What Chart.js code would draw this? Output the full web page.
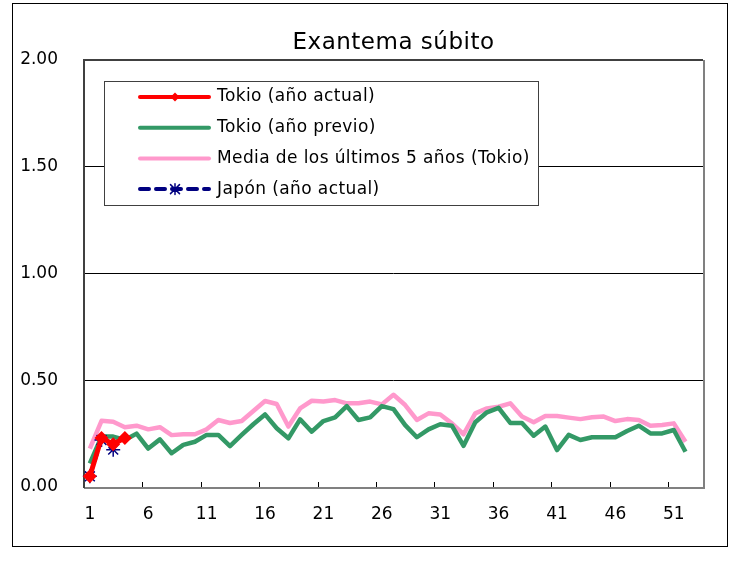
<!DOCTYPE html>
<html>
<head>
<meta charset="utf-8">
<title>Exantema súbito</title>
<script src="https://cdn.jsdelivr.net/npm/chart.js@4.4.1/dist/chart.umd.min.js"></script>
<style>
  body { margin: 0; background: #fff; }
</style>
</head>
<body>
<canvas id="grafica" width="736" height="568"></canvas>
<script>
// semanas epidemiológicas
var semanas = [1, 2, 3, 4, 5, 6, 7, 8, 9, 10, 11, 12, 13, 14, 15, 16, 17, 18, 19, 20,
  21, 22, 23, 24, 25, 26, 27, 28, 29, 30, 31, 32, 33, 34, 35, 36, 37, 38, 39, 40,
  41, 42, 43, 44, 45, 46, 47, 48, 49, 50, 51, 52, 53];

var tokioActual = [0.05, 0.23, 0.20, 0.23];
var japonActual = [0.05, 0.22, 0.175];
var tokioPrevio = [0.11, 0.236, 0.236, 0.22, 0.25, 0.18, 0.223, 0.158, 0.197, 0.212,
  0.244, 0.244, 0.192, 0.244, 0.294, 0.34, 0.275, 0.228, 0.317, 0.259,
  0.309, 0.326, 0.379, 0.314, 0.326, 0.379, 0.365, 0.29, 0.233, 0.27,
  0.294, 0.287, 0.193, 0.303, 0.35, 0.371, 0.30, 0.30, 0.24, 0.283,
  0.173, 0.244, 0.22, 0.233, 0.233, 0.233, 0.262, 0.287, 0.251, 0.251,
  0.267, 0.165];
var media5Anios = [0.18, 0.31, 0.306, 0.28, 0.287, 0.27, 0.28, 0.243, 0.247, 0.247,
  0.27, 0.314, 0.30, 0.309, 0.356, 0.403, 0.389, 0.283, 0.368, 0.404,
  0.40, 0.407, 0.392, 0.392, 0.40, 0.387, 0.432, 0.384, 0.314, 0.345,
  0.34, 0.298, 0.247, 0.345, 0.368, 0.376, 0.392, 0.33, 0.303, 0.333,
  0.333, 0.325, 0.318, 0.327, 0.33, 0.309, 0.318, 0.314, 0.287, 0.29,
  0.298, 0.212];

var fuente = "'DejaVu Sans', sans-serif";

var series = [
  { nombre: "Tokio (año actual)", color: "#ff0000", ancho: 5, dash: [], marca: "rombo" },
  { nombre: "Tokio (año previo)", color: "#339966", ancho: 4.5, dash: [], marca: null },
  { nombre: "Media de los últimos 5 años (Tokio)", color: "#ff99cc", ancho: 4.5, dash: [], marca: null },
  { nombre: "Japón (año actual)", color: "#000080", ancho: 3.5, dash: [9, 7], marca: "estrella" }
];

// marco, borde exterior y marcas del eje x
var marcoPlugin = {
  id: "marco",
  beforeDatasetsDraw: function (chart) {
    var ctx = chart.ctx;
    var a = chart.chartArea;
    var x = chart.scales.x;
    ctx.save();
    ctx.strokeStyle = "#000";
    ctx.lineWidth = 1;
    ctx.strokeRect(12.5, 3.5, 715, 543);
    // marcas cada 5 semanas, hacia adentro
    ctx.beginPath();
    for (var i = 5; i < semanas.length; i += 5) {
      var px = Math.round((x.getPixelForValue(i - 1) + x.getPixelForValue(i)) / 2) + 0.5;
      ctx.moveTo(px, a.bottom);
      ctx.lineTo(px, a.bottom - 5);
    }
    ctx.stroke();
    ctx.strokeStyle = "#808080";
    ctx.lineWidth = 2;
    ctx.beginPath();
    ctx.moveTo(a.left, a.bottom + 1);
    ctx.lineTo(a.right + 1, a.bottom + 1);
    ctx.lineTo(a.right + 1, a.top);
    ctx.stroke();
    ctx.strokeStyle = "#404040";
    ctx.beginPath();
    ctx.moveTo(a.left, a.bottom + 1);
    ctx.lineTo(a.left, a.top);
    ctx.lineTo(a.right, a.top);
    ctx.stroke();
    ctx.restore();
  }
};

function dibujarMarca(ctx, tipo, x, y, r, color) {
  ctx.save();
  ctx.setLineDash([]);
  if (tipo === "rombo") {
    ctx.fillStyle = color;
    ctx.beginPath();
    ctx.moveTo(x, y - r);
    ctx.lineTo(x + r, y);
    ctx.lineTo(x, y + r);
    ctx.lineTo(x - r, y);
    ctx.closePath();
    ctx.fill();
  } else if (tipo === "estrella") {
    ctx.strokeStyle = color;
    ctx.lineWidth = 1.5;
    ctx.beginPath();
    ctx.moveTo(x - r, y - r); ctx.lineTo(x + r, y + r);
    ctx.moveTo(x - r, y + r); ctx.lineTo(x + r, y - r);
    ctx.moveTo(x, y - r * 1.2); ctx.lineTo(x, y + r * 1.2);
    ctx.stroke();
  }
  ctx.restore();
}

// leyenda dentro del área y título
var leyendaPlugin = {
  id: "leyenda",
  afterDatasetsDraw: function (chart) {
    var ctx = chart.ctx;
    ctx.save();
    ctx.fillStyle = "#fff";
    ctx.fillRect(104.5, 81.5, 434, 124);
    ctx.strokeStyle = "#404040";
    ctx.lineWidth = 1;
    ctx.strokeRect(104.5, 81.5, 434, 124);
    ctx.font = "17px " + fuente;
    ctx.letterSpacing = "0.4px";
    ctx.textBaseline = "middle";
    series.forEach(function (s, i) {
      var y = 97 + i * 30.7;
      ctx.strokeStyle = s.color;
      ctx.lineWidth = 4;
      ctx.lineCap = "round";
      ctx.setLineDash(s.dash);
      ctx.beginPath();
      ctx.moveTo(140, y);
      ctx.lineTo(209, y);
      ctx.stroke();
      if (s.marca) dibujarMarca(ctx, s.marca, 175, y, 4.5, s.color);
      ctx.fillStyle = "#000";
      ctx.fillText(s.nombre, 217, y);
    });
    ctx.restore();
  },
  afterDraw: function (chart) {
    var ctx = chart.ctx;
    var a = chart.chartArea;
    ctx.save();
    ctx.font = "23px " + fuente;
    ctx.letterSpacing = "0.5px";
    ctx.fillStyle = "#000";
    ctx.textAlign = "center";
    ctx.textBaseline = "middle";
    ctx.fillText("Exantema súbito", (a.left + a.right) / 2, 43);
    ctx.restore();
  }
};

new Chart(document.getElementById("grafica").getContext("2d"), {
  type: "line",
  data: {
    labels: semanas,
    datasets: [
      {
        label: series[0].nombre,
        data: tokioActual,
        borderColor: series[0].color,
        backgroundColor: series[0].color,
        borderWidth: series[0].ancho,
        pointStyle: "rectRot",
        pointRadius: 7,
        pointBorderWidth: 0
      },
      {
        label: series[3].nombre,
        data: japonActual,
        borderColor: series[3].color,
        backgroundColor: series[3].color,
        borderWidth: series[3].ancho,
        borderDash: series[3].dash,
        pointStyle: "star",
        pointRadius: 7,
        pointBorderWidth: 1.5
      },
      {
        label: series[1].nombre,
        data: tokioPrevio,
        borderColor: series[1].color,
        borderWidth: series[1].ancho,
        pointRadius: 0
      },
      {
        label: series[2].nombre,
        data: media5Anios,
        borderColor: series[2].color,
        borderWidth: series[2].ancho,
        pointRadius: 0
      }
    ]
  },
  options: {
    responsive: false,
    animation: false,
    devicePixelRatio: 1,
    layout: { padding: { left: 12, right: 33, top: 60, bottom: 41 } },
    plugins: {
      legend: { display: false },
      title: { display: false },
      tooltip: { enabled: false }
    },
    elements: { line: { tension: 0, borderJoinStyle: "round" } },
    scales: {
      x: {
        offset: true,
        grid: { display: false, offset: true },
        border: { display: false },
        afterFit: function (scale) { scale.height = 40; },
        ticks: {
          autoSkip: false,
          maxRotation: 0,
          padding: 9,
          color: "#000",
          font: { family: fuente, size: 17 },
          callback: function (v, i) { return i % 5 === 0 ? this.getLabelForValue(v) : ""; }
        }
      },
      y: {
        min: 0,
        max: 2,
        afterFit: function (scale) { scale.width = 72; },
        grid: { color: "#000", lineWidth: 1, drawTicks: false },
        border: { display: false },
        ticks: {
          stepSize: 0.5,
          padding: 26,
          color: "#000",
          font: { family: fuente, size: 17 },
          callback: function (v) { return v.toFixed(2); }
        }
      }
    }
  },
  plugins: [marcoPlugin, leyendaPlugin]
});
</script>
</body>
</html>
